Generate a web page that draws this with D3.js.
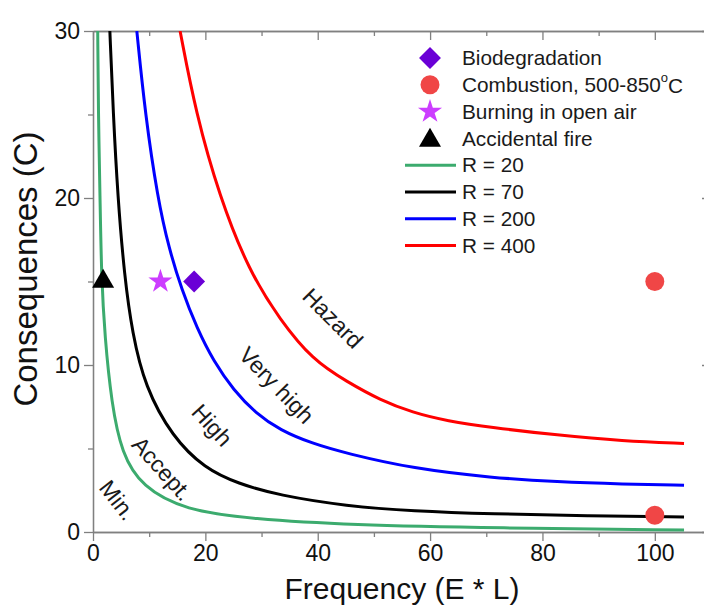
<!DOCTYPE html>
<html>
<head>
<meta charset="utf-8">
<script src="https://cdn.jsdelivr.net/npm/d3@7"></script>
<style>
body { margin: 0; background: #fff; }
svg { display: block; font-family: "Liberation Sans", Arial, sans-serif; }
.axis path, .axis line { stroke: #808080; stroke-width: 1.3; }
.axis text { fill: #111; font-size: 23px; }
</style>
</head>
<body>
<svg id="chart"></svg>
<script>
// curves: [frequency, consequence]
const r20 = [[0.84, 30], [0.95, 25.1], [1.25, 20.1], [1.5, 15.3], [2.1, 11.7], [3.3, 7.7], [5.1, 4.7],
	[8.7, 2.7], [16.4, 1.3], [28.3, 0.78], [45.7, 0.42], [72, 0.24], [105.2, 0.12]];
const r70 = [[3.0, 30], [3.6, 25.1], [4.4, 20.1], [5.6, 15.3], [7.0, 11.9], [9.25, 8.7], [14.1, 5.7],
	[19.9, 3.8], [25.8, 2.9], [33, 2.2], [45.2, 1.55], [56.9, 1.25], [71, 1.08], [88, 0.97], [105.2, 0.9]];
const r200 = [[7.8, 30], [9.3, 25], [11.5, 20], [13.5, 17], [15.8, 14.5], [18.5, 12.2], [21.5, 10.2],
	[25, 8.5], [29, 7.1], [33.3, 6.1], [39, 5.3], [45.2, 4.7], [56.9, 3.8], [71, 3.25], [82.6, 3.0],
	[94.3, 2.87], [105.2, 2.8]];
const r400 = [[15.5, 30], [18.3, 25.1], [22.5, 20.1], [27.8, 15.6], [33.3, 12.7], [39.1, 10.3], [45.2, 9.0],
	[51.1, 7.9], [56.9, 7.15], [63, 6.65], [71, 6.25], [82.6, 5.8], [94.3, 5.45], [105.2, 5.3]];

const curveNames = ['R = 20', 'R = 70', 'R = 200', 'R = 400'];
const curveColors = ['#3cab6e', '#000000', '#0000ff', '#ff0000'];

const biodegradation = [[18, 15]];
const combustion = [[100, 15], [100, 1]];
const openAir = [[12, 15]];
const accidental = [[1.8, 15]];

const pointNames = ['Biodegradation', 'Combustion, 500-850', 'Burning in open air', 'Accidental fire'];

const zoneLabels = ['Min.', 'Accept.', 'High', 'Very high', 'Hazard'];
const zoneSpots = [[4.4, 1.9], [12.3, 3.8], [21.2, 6.4], [32.7, 8.8], [42.7, 12.8]];
const zoneAngles = [52, 48, 48, 46, 45];

const xMajor = [0, 20, 40, 60, 80, 100];
const xMinor = [10, 30, 50, 70, 90];
const yMajor = [0, 10, 20, 30];
const yMinor = [5, 15, 25];

const W = 704, H = 608;
const margin = {top: 31, right: -7, bottom: 76, left: 93};

const svg = d3.select('#chart').attr('width', W).attr('height', H);

const x = d3.scaleLinear().domain([0, 110]).range([margin.left, W - margin.right]);
const y = d3.scaleLinear().domain([0, 30]).range([H - margin.bottom, margin.top]);

const addAxis = (axis, vals, size, labels, transform) => {
	return svg.append('g')
		.attr('class', 'axis')
		.attr('transform', transform)
		.call(axis.tickValues(vals).tickSize(size).tickSizeOuter(0).tickPadding(4)
			.tickFormat(labels ? d3.format('d') : ''));
};

// bottom & left (outward ticks)
addAxis(d3.axisBottom(x), xMajor, 9, true, `translate(0,${y(0)})`);
addAxis(d3.axisBottom(x), xMinor, 5, false, `translate(0,${y(0)})`);
addAxis(d3.axisLeft(y), yMajor, 9, true, `translate(${x(0)},0)`);
addAxis(d3.axisLeft(y), yMinor, 5, false, `translate(${x(0)},0)`);
// top & right (inward ticks)
addAxis(d3.axisTop(x), xMajor, -9, false, `translate(0,${y(30)})`);
addAxis(d3.axisTop(x), xMinor, -5, false, `translate(0,${y(30)})`);
addAxis(d3.axisRight(y), yMajor, -9, false, `translate(${x(110)},0)`);
addAxis(d3.axisRight(y), yMinor, -5, false, `translate(${x(110)},0)`);

svg.selectAll('.axis text').attr('font-size', 23);

svg.append('defs').append('clipPath').attr('id', 'plot')
	.append('rect')
	.attr('x', x(0)).attr('y', y(30))
	.attr('width', x(110) - x(0)).attr('height', y(0) - y(30));

const line = d3.line()
	.x(d => x(d[0]))
	.y(d => y(d[1]))
	.curve(d3.curveBasis);

svg.append('g')
	.attr('clip-path', 'url(#plot)')
	.selectAll('path')
	.data([r20, r70, r200, r400])
	.enter().append('path')
	.attr('d', line)
	.attr('fill', 'none')
	.attr('stroke', (d, i) => curveColors[i])
	.attr('stroke-width', 3);

// zone labels
svg.selectAll('.zone')
	.data(zoneLabels)
	.enter().append('text')
	.attr('class', 'zone')
	.attr('transform', (d, i) => `translate(${x(zoneSpots[i][0])},${y(zoneSpots[i][1])}) rotate(${zoneAngles[i]})`)
	.attr('text-anchor', 'middle')
	.attr('dy', '0.35em')
	.attr('font-size', 23)
	.attr('fill', '#1a1a1a')
	.text(d => d);

// markers
const markers = [
	{data: biodegradation, type: d3.symbolSquare, size: 240, rot: 45, color: '#6a00d6'},
	{data: combustion, type: d3.symbolCircle, size: 283, rot: 0, color: '#f04646'},
	{data: openAir, type: d3.symbolStar, size: 180, rot: 0, color: '#cc3dff'},
	{data: accidental, type: d3.symbolTriangle, size: 210, rot: 0, color: '#000000'}
];

markers.forEach(m => {
	svg.append('g').selectAll('path')
		.data(m.data)
		.enter().append('path')
		.attr('d', d3.symbol().type(m.type).size(m.size))
		.attr('transform', d => `translate(${x(d[0])},${y(d[1])}) rotate(${m.rot})`)
		.attr('fill', m.color);
});

// legend
const legend = svg.append('g').attr('transform', 'translate(430,58)');
const rowH = 26.8;

markers.forEach((m, i) => {
	legend.append('path')
		.attr('d', d3.symbol().type(m.type).size(m.size))
		.attr('transform', `translate(0,${i * rowH + (m.type === d3.symbolTriangle ? 2 : 0)}) rotate(${m.rot})`)
		.attr('fill', m.color);
	const t = legend.append('text')
		.attr('x', 32)
		.attr('y', i * rowH)
		.attr('dy', '0.35em')
		.attr('font-size', 20.8)
		.attr('fill', '#1a1a1a')
		.text(pointNames[i]);
	if (i === 1) {
		t.append('tspan').attr('font-size', 13).attr('dy', '-0.75em').text('o');
		t.append('tspan').attr('dy', '0.5em').text('C');
	}
});

curveNames.forEach((name, i) => {
	const yy = (i + 4) * rowH;
	legend.append('line')
		.attr('x1', -25).attr('x2', 26)
		.attr('y1', yy).attr('y2', yy)
		.attr('stroke', curveColors[i])
		.attr('stroke-width', 3);
	legend.append('text')
		.attr('x', 32)
		.attr('y', yy)
		.attr('dy', '0.35em')
		.attr('font-size', 20.8)
		.attr('fill', '#1a1a1a')
		.text(name);
});

// axis titles
svg.append('text')
	.attr('x', (x(0) + x(110)) / 2)
	.attr('y', 599)
	.attr('text-anchor', 'middle')
	.attr('font-size', 30)
	.attr('fill', '#111')
	.text('Frequency (E * L)');

svg.append('text')
	.attr('transform', 'translate(37,269) rotate(-90)')
	.attr('text-anchor', 'middle')
	.attr('font-size', 33)
	.attr('fill', '#111')
	.text('Consequences (C)');
</script>
</body>
</html>
